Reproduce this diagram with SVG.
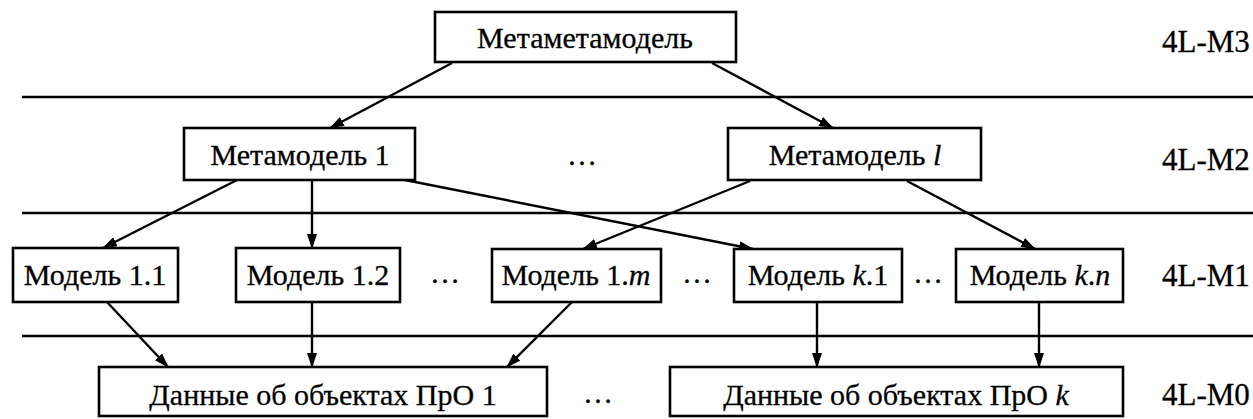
<svg xmlns="http://www.w3.org/2000/svg" width="1253" height="419" viewBox="0 0 1253 419">
<style>
.box{fill:#fff;stroke:#000;stroke-width:2.6}
.sep{stroke:#000;stroke-width:2.6}
.t{font-family:"Liberation Serif","DejaVu Serif",serif;font-size:30px;fill:#000;stroke:#000;stroke-width:0.3;text-anchor:middle}
.lv{font-family:"Liberation Serif","DejaVu Serif",serif;font-size:31px;fill:#000;stroke:#000;stroke-width:0.3}
.c{stroke:#000;stroke-width:2.4;fill:none;marker-end:url(#ah)}
</style>
<defs>
<marker id="ah" viewBox="0 0 15 10" refX="14" refY="5" markerWidth="15" markerHeight="10" markerUnits="userSpaceOnUse" orient="auto">
<path d="M0,0 L15,5 L0,10 Z" fill="#000"/>
</marker>
</defs>
<rect width="1253" height="419" fill="#fff"/>
<g id="separators">
<line class="sep" x1="22" y1="97" x2="1253" y2="97"/>
<line class="sep" x1="22" y1="213" x2="1253" y2="213"/>
<line class="sep" x1="22" y1="336" x2="1253" y2="336"/>
</g>
<g id="levels">
<text class="lv" x="1162" y="52">4L-M3</text>
<text class="lv" x="1162" y="170">4L-M2</text>
<text class="lv" x="1162" y="286">4L-M1</text>
<text class="lv" x="1162" y="405">4L-M0</text>
</g>
<g id="connectors">
<line class="c" x1="452" y1="63" x2="330" y2="128"/>
<line class="c" x1="712" y1="63" x2="833" y2="128"/>
<line class="c" x1="237" y1="180" x2="103" y2="248"/>
<line class="c" x1="312" y1="180" x2="312" y2="248"/>
<line class="c" x1="405" y1="180" x2="753" y2="249"/>
<line class="c" x1="750" y1="181" x2="583" y2="249"/>
<line class="c" x1="907" y1="181" x2="1035" y2="249"/>
<line class="c" x1="107" y1="302" x2="168" y2="367"/>
<line class="c" x1="312" y1="302" x2="312" y2="367"/>
<line class="c" x1="572" y1="302" x2="507" y2="367"/>
<line class="c" x1="817" y1="302" x2="817" y2="367"/>
<line class="c" x1="1039" y1="302" x2="1039" y2="367"/>
</g>
<g id="metametamodel">
<rect class="box" x="435" y="12" width="301" height="50"/>
<text class="t" x="585" y="48">Метаметамодель</text>
</g>
<g id="metamodel1">
<rect class="box" x="184" y="128" width="231" height="52"/>
<text class="t" x="300" y="165">Метамодель 1</text>
</g>
<g id="dots-m2"><text class="t" x="582" y="165">…</text></g>
<g id="metamodel-l">
<rect class="box" x="728" y="128" width="253" height="52"/>
<text class="t" x="855" y="165">Метамодель <tspan font-style="italic">l</tspan></text>
</g>
<g id="model11">
<rect class="box" x="13" y="248" width="165" height="54"/>
<text class="t" x="95" y="285">Модель 1.1</text>
</g>
<g id="model12">
<rect class="box" x="236" y="248" width="164" height="54"/>
<text class="t" x="318" y="285">Модель 1.2</text>
</g>
<g id="dots-m1a"><text class="t" x="445" y="283">…</text></g>
<g id="model1m">
<rect class="box" x="492" y="249" width="169" height="53"/>
<text class="t" x="576" y="285">Модель 1.<tspan font-style="italic">m</tspan></text>
</g>
<g id="dots-m1b"><text class="t" x="697" y="283">…</text></g>
<g id="modelk1">
<rect class="box" x="734" y="249" width="168" height="53"/>
<text class="t" x="818" y="285">Модель <tspan font-style="italic">k</tspan>.1</text>
</g>
<g id="dots-m1c"><text class="t" x="928" y="283">…</text></g>
<g id="modelkn">
<rect class="box" x="956" y="249" width="167" height="53"/>
<text class="t" x="1040" y="285">Модель <tspan font-style="italic">k</tspan>.<tspan font-style="italic">n</tspan></text>
</g>
<g id="data1">
<rect class="box" x="99" y="367" width="448" height="49"/>
<text class="t" x="323" y="405">Данные об объектах ПрО 1</text>
</g>
<g id="dots-m0"><text class="t" x="598" y="403">…</text></g>
<g id="datak">
<rect class="box" x="670" y="367" width="453" height="49"/>
<text class="t" x="896" y="405">Данные об объектах ПрО <tspan font-style="italic">k</tspan></text>
</g>
</svg>
